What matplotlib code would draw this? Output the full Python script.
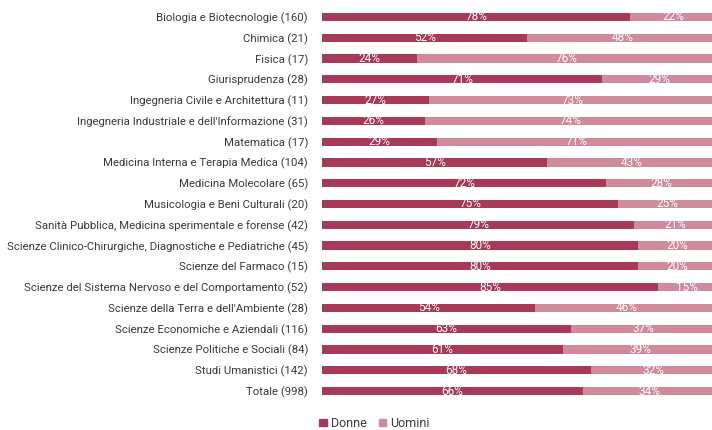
import numpy as np
import matplotlib
matplotlib.use("Agg")
import matplotlib.pyplot as plt
from matplotlib.patches import Patch

plt.rcParams['font.family'] = ['Roboto', 'DejaVu Sans']

# Dipartimenti (numero di persone) e quota donne / uomini in percentuale
dipartimenti = [
    "Biologia e Biotecnologie (160)",
    "Chimica (21)",
    "Fisica (17)",
    "Giurisprudenza (28)",
    "Ingegneria Civile e Architettura (11)",
    "Ingegneria Industriale e dell'Informazione (31)",
    "Matematica (17)",
    "Medicina Interna e Terapia Medica (104)",
    "Medicina Molecolare (65)",
    "Musicologia e Beni Culturali (20)",
    "Sanità Pubblica, Medicina sperimentale e forense (42)",
    "Scienze Clinico-Chirurgiche, Diagnostiche e Pediatriche (45)",
    "Scienze del Farmaco (15)",
    "Scienze del Sistema Nervoso e del Comportamento (52)",
    "Scienze della Terra e dell'Ambiente (28)",
    "Scienze Economiche e Aziendali (116)",
    "Scienze Politiche e Sociali (84)",
    "Studi Umanistici (142)",
    "Totale (998)",
]
donne = [78, 52, 24, 71, 27, 26, 29, 57, 72, 75, 79, 80, 80, 85, 54, 63, 61, 68, 66]
uomini = [22, 48, 76, 29, 73, 74, 71, 43, 28, 25, 21, 20, 20, 15, 46, 37, 39, 32, 34]

col_donne = '#a63a58'
col_uomini = '#cf8a9b'
col_testo = '#3a3a3a'

fig = plt.figure(figsize=(7.12, 4.30), dpi=100)
ax = fig.add_axes([322 / 712, 1 - 401.4 / 430, (717 - 322) / 712, 394.8 / 430])

y = np.arange(len(dipartimenti))
d = np.array(donne)
u = np.array(uomini)
ax.barh(y, d, height=0.4, color=col_donne)
ax.barh(y, u, left=d, height=0.4, color=col_uomini)

for i in range(len(y)):
    ax.text(d[i] / 2, y[i], f"{d[i]}%", ha='center', va='center',
            color='white', fontsize=8.5)
    ax.text(d[i] + u[i] / 2, y[i], f"{u[i]}%", ha='center', va='center',
            color='white', fontsize=8.5)

ax.set_xlim(0, 100)
ax.set_ylim(len(y) - 0.5, -0.5)
ax.set_yticks(y)
ax.set_yticklabels(dipartimenti, fontsize=8.2, color=col_testo)
ax.tick_params(axis='y', length=0, pad=10)
ax.set_xticks([])
for s in ax.spines.values():
    s.set_visible(False)

handles = [Patch(color=col_donne, label='Donne'), Patch(color=col_uomini, label='Uomini')]
leg = fig.legend(handles=handles, loc='lower left', bbox_to_anchor=(308 / 712, -0.026),
                 ncol=2, frameon=False, handlelength=0.6, handleheight=0.6,
                 handletextpad=0.3, columnspacing=1.0, fontsize=9)
for t in leg.get_texts():
    t.set_color(col_testo)

fig.savefig('out.png', dpi=100)
